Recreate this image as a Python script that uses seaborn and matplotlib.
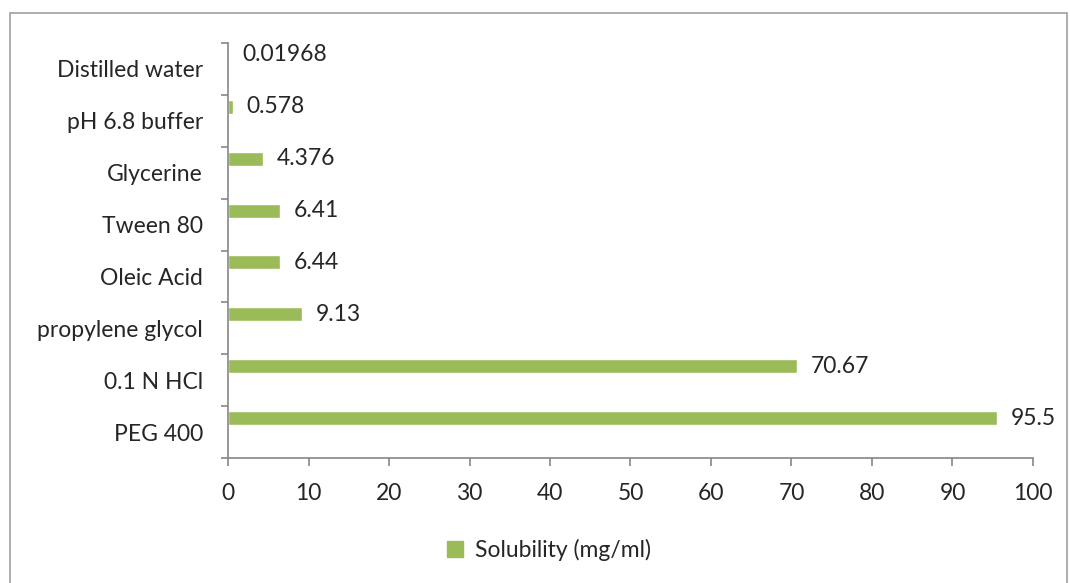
import matplotlib
matplotlib.use("Agg")
import matplotlib.pyplot as plt
import matplotlib.patches as mpatches
import seaborn as sns
import pandas as pd
import numpy as np

categories = ["Distilled water", "pH 6.8 buffer", "Glycerine", "Tween 80",
              "Oleic Acid", "propylene glycol", "0.1 N HCl", "PEG 400"]
solubility = [0.01968, 0.578, 4.376, 6.41, 6.44, 9.13, 70.67, 95.5]
value_labels = ["0.01968", "0.578", "4.376", "6.41", "6.44", "9.13", "70.67", "95.5"]
x_ticks = [0, 10, 20, 30, 40, 50, 60, 70, 80, 90, 100]
# the source chart reserves room for three series, only the first has data
series_names = ["Solubility (mg/ml)", "Series 2", "Series 3"]

sns.set_style("white")
plt.rcParams['font.family'] = ['Lato', 'DejaVu Sans']

empty = [np.nan] * len(categories)
df = pd.DataFrame({
    "solvent": categories * 3,
    "value": solubility + empty + empty,
    "series": [s for s in series_names for _ in categories],
})

fig = plt.figure(figsize=(10.7, 5.83), dpi=100)
ax = fig.add_axes([0.2131, 0.2144, 0.7523, 0.7118])

green = "#9BBB59"
grey = "#868686"
fs = 16.5

sns.barplot(data=df, y="solvent", x="value", hue="series", hue_order=series_names,
            orient="h", palette=[green, "#4F81BD", "#C0504D"], dodge=True,
            width=0.81, saturation=1, legend=False, ax=ax)

ax.bar_label(ax.containers[0], labels=value_labels, padding=10, fontsize=fs)

ax.set_xlim(0, 100)
ax.set_ylim(7.5, -0.5)
ax.set_xticks(x_ticks)
ax.set_xlabel("")
ax.set_ylabel("")

# category tick marks sit between categories
ax.set_yticks([i - 0.5 for i in range(len(categories) + 1)], minor=True)
ax.tick_params(axis="y", which="major", length=0, pad=18, labelsize=fs)
ax.tick_params(axis="y", which="minor", length=5, color=grey, width=1.2, left=True)
ax.tick_params(axis="x", which="major", length=6, color=grey, width=1.2,
               bottom=True, labelsize=fs, pad=12)

for side in ["top", "right"]:
    ax.spines[side].set_visible(False)
for side in ["left", "bottom"]:
    ax.spines[side].set_color(grey)
    ax.spines[side].set_linewidth(1.2)

handle = mpatches.Patch(color=green, label=series_names[0])
fig.legend(handles=[handle], loc="center", bbox_to_anchor=(0.513, 0.057),
           frameon=False, fontsize=fs, handlelength=0.7, handleheight=0.7,
           handletextpad=0.5)

# chart border
border = mpatches.Rectangle((10 / 1070, -0.05), 1057 / 1070, 1.05 - 13 / 583,
                            transform=fig.transFigure, fill=False,
                            edgecolor="#A0A0A0", linewidth=1.2)
fig.patches.append(border)

fig.savefig("out.png", dpi=100)
